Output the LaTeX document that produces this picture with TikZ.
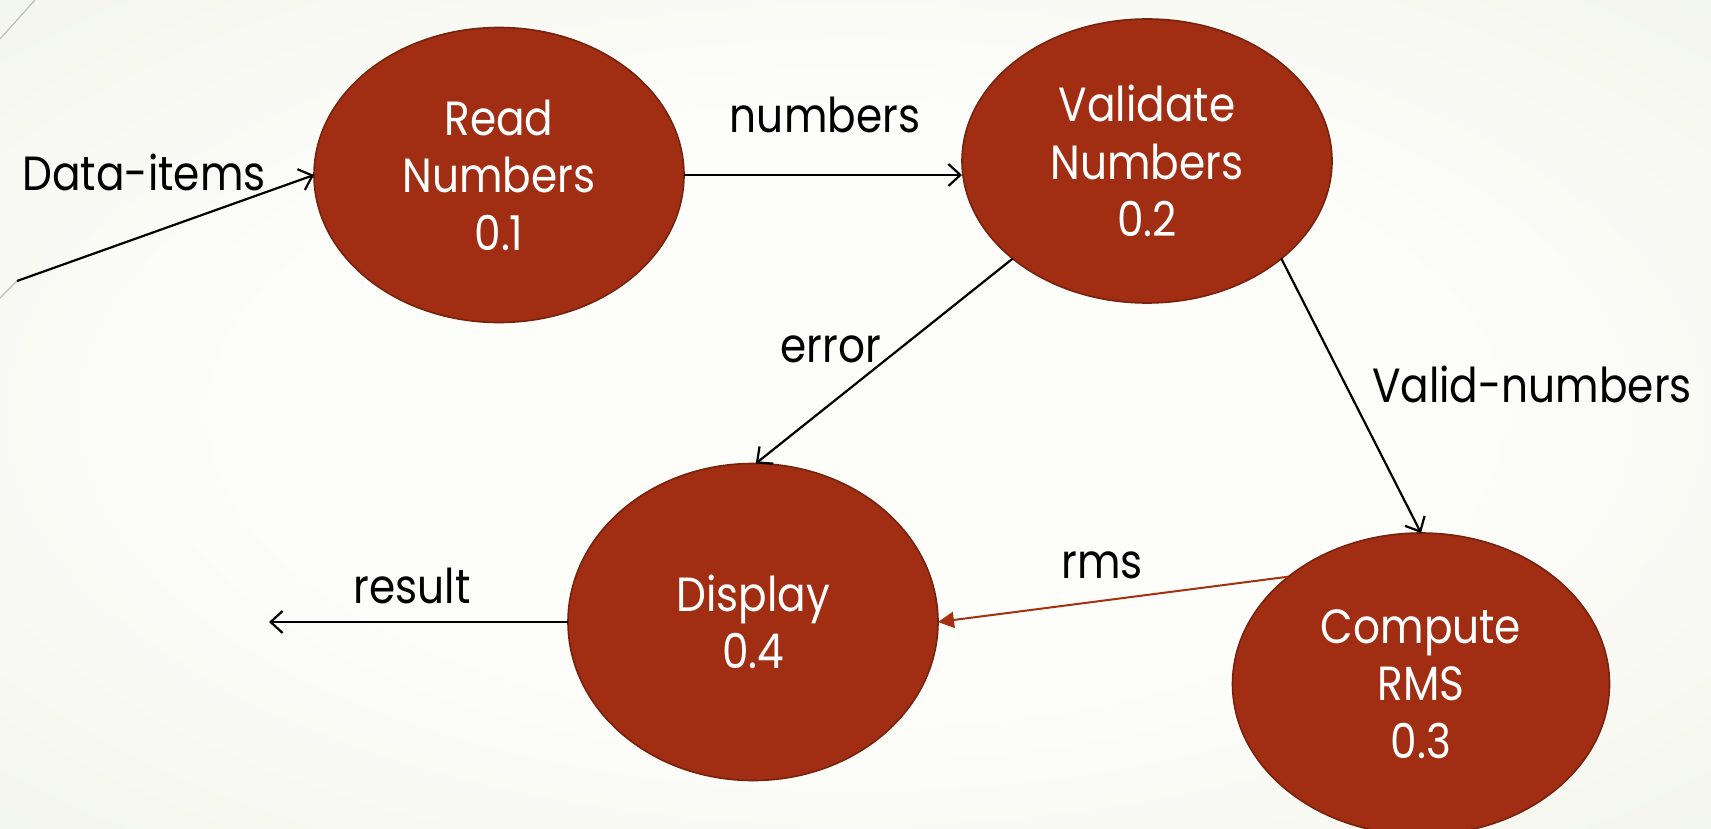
\documentclass[tikz,border=0pt]{standalone}
\usepackage{fontspec}
\setmainfont{Poppins}[FakeStretch=0.88]
\usetikzlibrary{shapes.geometric,arrows.meta}

\definecolor{bgin}{RGB}{253,253,250}
\definecolor{bgmid}{RGB}{239,243,230}
\definecolor{bgout}{RGB}{222,232,204}
\definecolor{procfill}{RGB}{161,46,18}
\definecolor{procedge}{RGB}{118,34,14}
\definecolor{rmsline}{RGB}{163,48,16}
\definecolor{decoline}{RGB}{190,190,176}

% soft slide background, lightest in the middle
\pgfdeclareradialshading{slidebg}{\pgfpoint{0bp}{0bp}}{%
  color(0bp)=(bgin); color(18bp)=(bgin); color(45bp)=(bgmid); color(72bp)=(bgout)}

\tikzset{
  proc/.style={ellipse, fill=procfill, draw=procedge, line width=1.6pt,
    inner sep=0pt, outer sep=0pt, text=white, align=center,
    font=\fontsize{48}{57.5}\selectfont},
  flowlabel/.style={text=black, anchor=base, inner sep=0pt,
    font=\fontsize{48}{57.5}\selectfont},
  flow/.style={draw=black, line width=2.2pt,
    -{Straight Barb[length=12pt,width=22pt]}},
  rmsflow/.style={draw=rmsline, line width=2pt,
    -{Triangle[length=16pt,width=16pt]}},
  deco/.style={draw=decoline, line width=1.2pt}
}

\begin{document}
\begin{tikzpicture}[x=1pt,y=-1pt]
  \useasboundingbox (0,0) rectangle (1711,829);
  \shade[shading=slidebg] (0,0) rectangle (1711,829);

  % slide decoration strokes along the left edge
  \draw[deco] (0,39) -- (35,0);
  \draw[deco] (0,298) -- (17,281);

  % processes
  \node[proc, minimum width=370pt, minimum height=295pt] (read) at (499,175)
    {Read\\Numbers\\0.1};
  \node[proc, minimum width=370pt, minimum height=284pt] (validate) at (1147,161)
    {Validate\\Numbers\\0.2};
  \node[proc, minimum width=370pt, minimum height=317pt] (display) at (753,622)
    {Display\\0.4};
  \node[proc, minimum width=377pt, minimum height=302pt] (compute) at (1421,684)
    {Compute\\RMS\\0.3};

  % free ends
  \coordinate (src) at (17,281);
  \coordinate (sink) at (269,622);

  % data flows
  \draw[flow] (src) -- (read.west);
  \draw[flow] (read.east) -- (validate.west |- read.east);
  \draw[flow] (validate.216) -- (display.89);
  \draw[flow] (validate.-36) -- (compute.north);
  \draw[rmsflow] (compute.141) -- (display.east);
  \draw[flow] (display.west) -- (sink);

  % flow labels
  \node[flowlabel] (lbldata) at (144,191) {Data-items};
  \node[flowlabel] (lblnum) at (825,133) {numbers};
  \node[flowlabel] (lblerr) at (831,362) {error};
  \node[flowlabel] (lblvalid) at (1532,402) {Valid-numbers};
  \node[flowlabel] (lblrms) at (1102,578) {rms};
  \node[flowlabel] (lblres) at (412,603) {result};
\end{tikzpicture}
\end{document}
